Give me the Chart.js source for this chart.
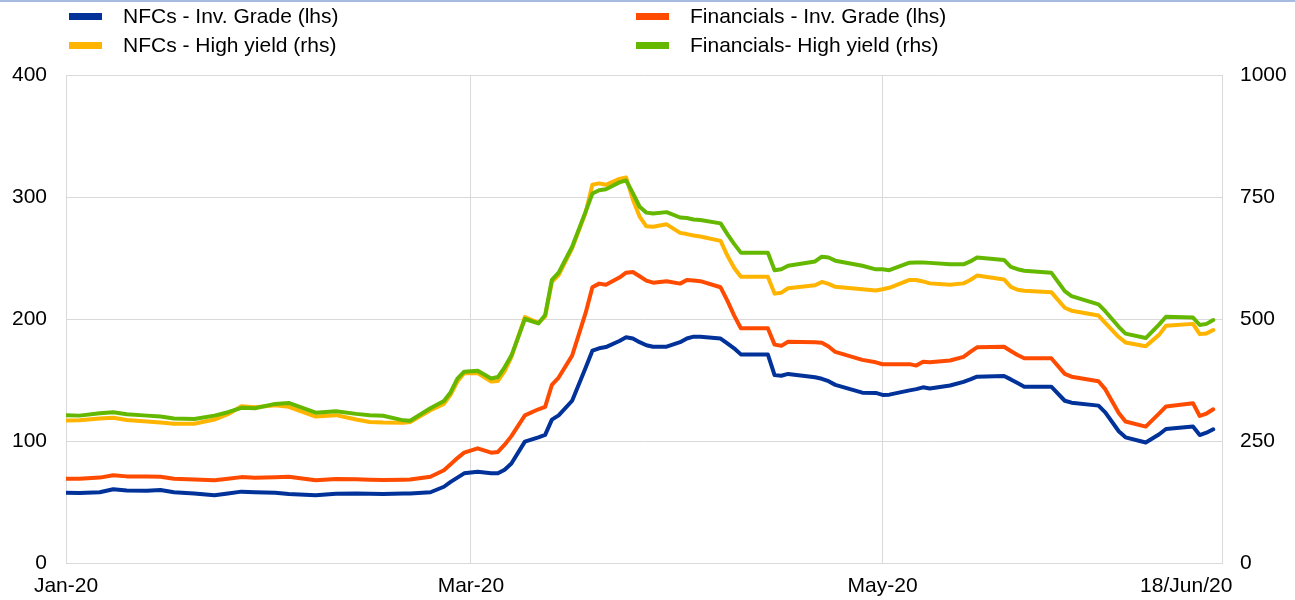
<!DOCTYPE html>
<html>
<head>
<meta charset="utf-8">
<title>Corporate bond spreads</title>
<script src="https://cdn.jsdelivr.net/npm/chart.js@4/dist/chart.umd.min.js"></script>
<style>
  html, body { margin: 0; padding: 0; background: #fff; }
  #wrap { width: 1295px; height: 600px; }
</style>
</head>
<body>
<div id="wrap"><canvas id="spreads" width="1295" height="600"></canvas></div>
<script>
// days counted from 1 Jan 2020
const days = [0, 2, 5, 7, 9, 12, 14, 16, 19, 22, 24, 26, 28, 31, 33, 37, 40, 43, 45, 47, 50, 51, 54,
  56, 57, 58, 59, 61, 63, 64, 65, 66, 68, 70, 71, 72, 73, 75, 77, 78, 79, 80, 82, 83, 84, 85, 86, 87,
  89, 91, 92, 93, 94, 97, 98, 99, 100, 104, 105, 106, 107, 111, 112, 113, 114, 118, 120, 121, 122,
  125, 126, 127, 128, 131, 133, 134, 135, 139, 140, 141, 142, 146, 148, 149, 153, 154, 156, 157,
  160, 162, 163, 167, 168, 169, 170];

const nfcIG = [57.6, 57.3, 58, 60.5, 59.5, 59.3, 59.8, 58, 57, 55.5, 57, 58.5, 58, 57.5, 56.6, 55.5, 56.8, 57, 56.8, 56.6, 57, 57, 58,
  62.5, 66.5, 70, 73.5, 74.8, 73.5, 73.5, 76.5, 81.5, 99.5, 103, 105, 117.5, 121, 133, 160, 174, 176, 177, 182, 185, 184, 181, 178.5, 177.3,
  177.3, 181, 184, 185.5, 185.5, 184, 180, 176, 171, 171, 154, 153.5, 155, 152.2, 151, 149, 146, 139.6, 139.4, 137.8, 138,
  141.5, 142.5, 144, 143, 145.5, 148.5, 150.5, 152.7, 153.3, 150.5, 147.5, 144.5, 144.5, 133, 131.4, 129, 123.5, 108, 103,
  98.8, 105.5, 109.8, 111.8, 104.9, 106.8, 109.6];

const finIG = [69, 69, 70, 72, 71, 70.8, 70.7, 69, 68.5, 67.8, 69, 70.4, 69.8, 70.3, 70.7, 67.8, 68.9, 68.6, 68.3, 68, 68.3, 68.5, 70.7,
  76, 81, 86, 90.5, 94, 90.4, 91, 97, 104, 121, 126, 128, 146, 152, 170, 205, 226, 229, 228, 234, 238, 238.5, 235, 231.5, 229.8,
  231, 229, 232, 231.5, 231, 226, 215, 203, 192.4, 192.4, 179, 178, 181.4, 181, 180.5, 177.5, 173, 166.5, 164.5, 162.9, 162.9,
  163, 161.8, 165, 164.5, 166, 169, 173, 176.8, 177.3, 173.8, 170.5, 167.8, 167.8, 155, 152.7, 149, 142.5, 123, 116,
  111.8, 122.7, 128.3, 131, 120.5, 122.5, 126];

const nfcHY = [292, 292.5, 296, 297.7, 293, 290, 288, 285.5, 285.5, 294, 305, 321, 319, 323, 320, 300, 303, 294, 289, 288, 287.5, 289, 313,
  326, 345, 372, 389, 389, 372, 373, 393, 422, 504, 492, 505, 576, 590, 645, 718, 775, 778, 775, 787, 790, 745, 710, 690, 689,
  694, 676.5, 674, 671, 669, 660, 630, 605, 586.7, 586.7, 552, 554, 563, 569, 576, 572, 566, 561, 558.5, 561, 564,
  580, 580, 577, 573, 570, 573, 580, 589, 581, 566, 560, 558, 555, 523, 517, 507, 492, 463, 452,
  444, 468, 486, 490, 469, 470.5, 477.5];

const finHY = [303, 302, 307, 309, 305, 302, 300, 296, 295, 302, 309, 318, 317, 326, 328, 308, 311, 305.6, 303, 301.6, 292.3, 291.6, 317,
  332, 350, 378, 392, 394, 378, 381, 401, 425, 500, 491, 508, 580, 595, 648, 720, 757, 764, 766, 780, 784, 758, 730, 718, 716,
  719, 708, 707, 704, 703, 696, 674, 654, 636, 636, 600, 602, 609, 618, 627.7, 626, 619.5, 609, 601.8, 601.8, 600,
  615.4, 616, 616, 615, 612, 612, 618, 626, 621, 607, 602, 599, 595, 557, 547, 530, 516, 484, 470,
  461, 489, 504.7, 503, 487.7, 490, 498];

const tickDays = [0, 60, 121, 166];
const tickLabels = ["Jan-20", "Mar-20", "May-20", "18/Jun/20"];
const lhsTicks = [0, 100, 200, 300, 400];
const rhsTicks = [0, 250, 500, 750, 1000];

const FONT = "'Liberation Sans', Arial, sans-serif";
const GRID = "#d9d9d9";

function toPoints(values) {
  return values.map((v, i) => ({ x: days[i], y: v }));
}

// two-column legend above the plot, plus the thin rule on top
const topLegend = {
  id: "topLegend",
  afterDraw(chart) {
    const ctx = chart.ctx;
    ctx.save();
    ctx.fillStyle = "#a7bbe0";
    ctx.fillRect(0, 0, chart.width, 2);

    const cols = [69, 636];
    const rows = [16, 45];
    ctx.font = "21px " + FONT;
    ctx.textBaseline = "middle";
    chart.data.datasets.forEach((ds, i) => {
      const x = cols[i % 2];
      const y = rows[Math.floor(i / 2)];
      ctx.fillStyle = ds.borderColor;
      ctx.fillRect(x, y - 3, 33, 7);
      ctx.fillStyle = "#000";
      ctx.fillText(ds.label, x + 54, y + 1);
    });
    ctx.restore();
  },
};

new Chart(document.getElementById("spreads"), {
  type: "line",
  data: {
    datasets: [
      { label: "NFCs - Inv. Grade (lhs)", data: toPoints(nfcIG), borderColor: "#003299", yAxisID: "y", order: 3 },
      { label: "Financials - Inv. Grade (lhs)", data: toPoints(finIG), borderColor: "#ff4b00", yAxisID: "y", order: 2 },
      { label: "NFCs - High yield (rhs)", data: toPoints(nfcHY), borderColor: "#ffb400", yAxisID: "y1", order: 1 },
      { label: "Financials- High yield (rhs)", data: toPoints(finHY), borderColor: "#65b800", yAxisID: "y1", order: 0 },
    ],
  },
  options: {
    responsive: false,
    animation: false,
    layout: { padding: { top: 75, left: 0, right: 0, bottom: 0 } },
    elements: {
      point: { radius: 0, hoverRadius: 0 },
      line: { borderWidth: 4, tension: 0, borderJoinStyle: "round", borderCapStyle: "round", fill: false },
    },
    plugins: {
      legend: { display: false },
      tooltip: { enabled: false },
    },
    scales: {
      x: {
        type: "linear",
        min: 0,
        max: 171.3,
        afterBuildTicks: (scale) => {
          scale.ticks = tickDays.map((v) => ({ value: v }));
        },
        afterFit: (scale) => {
          scale.height = 37;
        },
        grid: {
          color: (c) => (c.tick && c.tick.value === 166 ? "rgba(0,0,0,0)" : GRID),
          drawTicks: false,
        },
        border: { color: GRID },
        ticks: {
          padding: 11,
          maxRotation: 0,
          autoSkip: false,
          color: "#000",
          font: { family: FONT, size: 21 },
          callback: (v) => tickLabels[tickDays.indexOf(v)],
        },
      },
      y: {
        position: "left",
        min: 0,
        max: 400,
        afterBuildTicks: (scale) => {
          scale.ticks = lhsTicks.map((v) => ({ value: v }));
        },
        afterFit: (scale) => {
          scale.width = 66;
        },
        grid: { color: GRID, drawTicks: false },
        border: { color: GRID },
        ticks: { padding: 19, color: "#000", font: { family: FONT, size: 21 }, callback: (v) => String(v) },
      },
      y1: {
        position: "right",
        min: 0,
        max: 1000,
        afterBuildTicks: (scale) => {
          scale.ticks = rhsTicks.map((v) => ({ value: v }));
        },
        afterFit: (scale) => {
          scale.width = 73;
        },
        grid: { drawOnChartArea: false, drawTicks: false },
        border: { color: GRID },
        ticks: { padding: 18, color: "#000", font: { family: FONT, size: 21 }, callback: (v) => String(v) },
      },
    },
  },
  plugins: [topLegend],
});
</script>
</body>
</html>
